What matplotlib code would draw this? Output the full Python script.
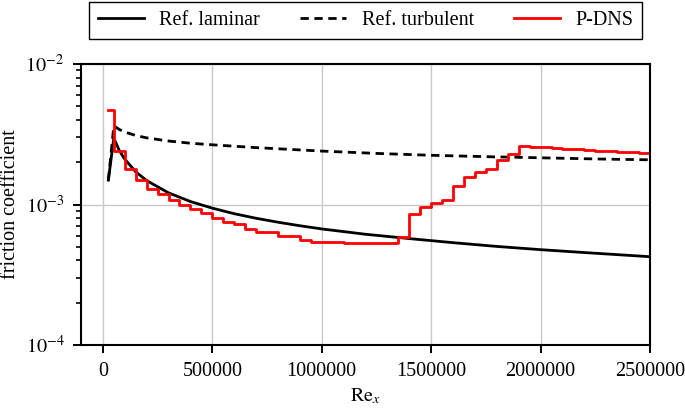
import matplotlib
matplotlib.use("Agg")
import matplotlib.pyplot as plt
from matplotlib.ticker import NullFormatter, FixedLocator

plt.rcParams['font.family'] = ['Liberation Serif', 'DejaVu Serif']
plt.rcParams['mathtext.fontset'] = 'stix'

# Reference laminar
lam_re = [25000, 50000, 75000, 100000, 150000, 200000, 300000, 400000, 500000,
          600000, 700000, 800000, 900000, 1000000, 1200000, 1400000, 1600000,
          1800000, 2000000, 2200000, 2500000]
lam_cf = [1.49e-3, 2.97e-3, 2.42e-3, 2.10e-3, 1.71e-3, 1.48e-3, 1.21e-3, 1.05e-3, 0.942e-3,
          0.860e-3, 0.798e-3, 0.748e-3, 0.706e-3, 0.670e-3, 0.614e-3, 0.572e-3, 0.535e-3,
          0.503e-3, 0.477e-3, 0.455e-3, 0.425e-3]

# Reference turbulent
tur_re = [25000, 50000, 75000, 100000, 150000, 200000, 300000, 400000, 500000, 700000,
          1000000, 1250000, 1500000, 1750000, 2000000, 2250000, 2500000]
tur_cf = [1.49e-3, 3.63e-3, 3.42e-3, 3.28e-3, 3.10e-3, 2.98e-3, 2.83e-3, 2.73e-3, 2.66e-3, 2.54e-3,
          2.40e-3, 2.31e-3, 2.24e-3, 2.19e-3, 2.15e-3, 2.11e-3, 2.08e-3]

# P-DNS (piecewise constant, value starts at each edge)
dns_re = [25000, 50000, 100000, 150000, 200000, 250000, 300000, 350000, 400000, 450000,
          500000, 550000, 600000, 650000, 700000, 800000, 900000, 950000, 1100000, 1350000,
          1400000, 1450000, 1500000, 1550000, 1600000, 1650000, 1700000, 1750000, 1800000,
          1850000, 1900000, 1950000, 2000000, 2050000, 2100000, 2150000, 2200000, 2250000,
          2300000, 2350000, 2400000, 2450000, 2500000]
dns_cf = [4.72e-3, 2.39e-3, 1.79e-3, 1.50e-3, 1.29e-3, 1.18e-3, 1.07e-3, 1.00e-3, 0.932e-3, 0.873e-3,
          0.800e-3, 0.754e-3, 0.721e-3, 0.668e-3, 0.640e-3, 0.596e-3, 0.556e-3, 0.540e-3, 0.530e-3, 0.586e-3,
          0.849e-3, 0.957e-3, 1.028e-3, 1.07e-3, 1.35e-3, 1.57e-3, 1.69e-3, 1.79e-3, 2.06e-3,
          2.30e-3, 2.60e-3, 2.57e-3, 2.55e-3, 2.52e-3, 2.50e-3, 2.47e-3, 2.45e-3, 2.42e-3,
          2.40e-3, 2.37e-3, 2.35e-3, 2.32e-3, 2.30e-3]

xticks = [0, 500000, 1000000, 1500000, 2000000, 2500000]
xticklabels = ['0', '500000', '1000000', '1500000', '2000000', '2500000']
yticks = [1e-4, 1e-3, 1e-2]
yticklabels = [r'$10^{-4}$', r'$10^{-3}$', r'$10^{-2}$']
yminor = [m * d for d in (1e-4, 1e-3) for m in range(2, 10)]

fs = 14.5
fig = plt.figure(figsize=(6.85, 4.11), dpi=100)
ax = fig.add_axes([81/685, 1-345/411, (650-81)/685, (345-64)/411])

l1, = ax.plot(lam_re, lam_cf, color='black', lw=2.0, label='Ref. laminar')
l2, = ax.plot(tur_re, tur_cf, color='black', lw=2.0, ls=(0, (3.0, 2.0)), label='Ref. turbulent')
l3, = ax.plot(dns_re, dns_cf, color='#ff0000', lw=2.0, drawstyle='steps-post', label='P-DNS')

ax.set_yscale('log')
ax.set_ylim(1e-4, 1e-2)
ax.set_xlim(-100000, 2500000)
ax.set_xticks(xticks)
ax.set_xticklabels(xticklabels, fontsize=fs)
ax.set_yticks(yticks)
ax.set_yticklabels(yticklabels, fontsize=fs)
ax.yaxis.set_minor_locator(FixedLocator(yminor))
ax.yaxis.set_minor_formatter(NullFormatter())

ax.grid(True, which='major', color='#c8c8c8', lw=1.0)
ax.set_axisbelow(True)
for s in ax.spines.values():
    s.set_linewidth(1.5)
    s.set_color('black')
ax.tick_params(which='major', direction='out', length=6, width=1.4, pad=6)
ax.tick_params(axis='y', which='minor', direction='out', length=3.5, width=1.2)

ax.set_xlabel(r'$\mathrm{Re}_x$', fontsize=fs, labelpad=4)
ax.set_ylabel('friction coefficient', fontsize=fs, labelpad=4)

leg = fig.legend(handles=[l1, l2, l3], loc='upper center',
                 bbox_to_anchor=((91+640)/2/685, 1-2/411), ncol=3, fontsize=fs,
                 frameon=True, fancybox=False, edgecolor='black', framealpha=1,
                 handlelength=2.3, handletextpad=0.75, columnspacing=2.0,
                 borderpad=0.45, borderaxespad=0)
leg.get_frame().set_linewidth(1.0)

fig.savefig('out.png', dpi=100)
